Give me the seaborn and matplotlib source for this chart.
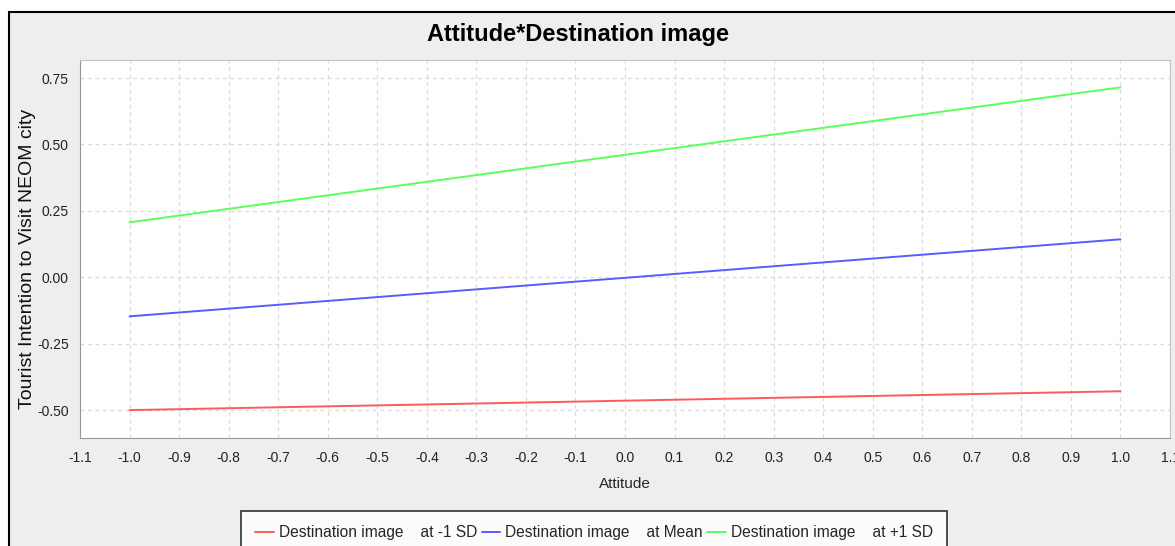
import matplotlib
matplotlib.use("Agg")
import matplotlib.pyplot as plt
import numpy as np
import pandas as pd
import seaborn as sns
from matplotlib.patches import Rectangle

# data
attitude = [-1.0, 1.0]
at_minus_sd = [-0.500, -0.429]
at_mean = [-0.147, 0.143]
at_plus_sd = [0.207, 0.715]
series_names = ["Destination image    at -1 SD",
                "Destination image    at Mean",
                "Destination image    at +1 SD"]
colors = ["#ff5a5a", "#5a5aff", "#5aff5a"]
x_ticks = np.round(np.arange(-1.1, 1.11, 0.1), 1)
y_ticks = [-0.5, -0.25, 0.0, 0.25, 0.5, 0.75]

df = pd.DataFrame({
    "Attitude": attitude * 3,
    "value": at_minus_sd + at_mean + at_plus_sd,
    "series": np.repeat(series_names, len(attitude)),
})

sns.set_style("white")
plt.rcParams["font.family"] = ["Liberation Sans", "DejaVu Sans"]

fig = plt.figure(figsize=(11.75, 5.46), dpi=100)
fig.patch.set_facecolor("white")
# grey panel with black frame, like the java chart window
fig.patches.append(Rectangle((9 / 1175, -0.01), 1.0, 1 - 12 / 546 + 0.01,
                             transform=fig.transFigure, facecolor="#eeeeee",
                             edgecolor="black", linewidth=1.5, zorder=-10))

ax = fig.add_axes([80 / 1175, 1 - 438 / 546, (1170 - 80) / 1175, (438 - 60) / 546])
ax.set_facecolor("white")

sns.lineplot(data=df, x="Attitude", y="value", hue="series",
             palette=dict(zip(series_names, colors)), linewidth=1.4, ax=ax,
             legend=False)

ax.set_xlim(-1.1, 1.1)
ax.set_ylim(-0.605, 0.818)
ax.set_xticks(x_ticks)
ax.set_xticklabels([f"{t:.1f}" for t in x_ticks])
ax.set_yticks(y_ticks)
ax.set_yticklabels([f"{t:.2f}" for t in y_ticks])
ax.tick_params(axis="both", labelsize=10, labelcolor="#222222", length=4, width=1,
               direction="out", color="#888888")
ax.tick_params(axis="x", pad=5)
ax.tick_params(axis="y", pad=4)
ax.grid(True, color="#dadada", linestyle=(0, (3, 3)), linewidth=0.9)
for side in ["top", "right"]:
    ax.spines[side].set_color("#c4c4c4")
ax.spines["left"].set_color("#999999")
ax.spines["bottom"].set_color("#999999")

ax.set_xlabel("Attitude", fontsize=11, labelpad=9)
ax.set_ylabel("Tourist Intention to Visit NEOM city", fontsize=14, color="#111111")
ax.yaxis.set_label_coords(-0.040, 0.4735)

fig.text(578 / 1175, 1 - 35 / 546, "Attitude*Destination image", ha="center", va="center",
         fontsize=17, fontweight="bold", color="black")

handles = [plt.Line2D([], [], color=c, linewidth=1.4) for c in colors]
leg = fig.legend(handles, series_names, loc="upper center", bbox_to_anchor=(594 / 1175, 1 - 511 / 546),
                 ncol=3, frameon=True, fancybox=False, edgecolor="black", handlelength=1.2,
                 handletextpad=0.3, columnspacing=0.3, borderpad=0.9, borderaxespad=0,
                 prop={"size": 11.2})
leg.get_frame().set_linewidth(1.2)
leg.get_frame().set_facecolor("white")

fig.savefig("out.png", dpi=100)
